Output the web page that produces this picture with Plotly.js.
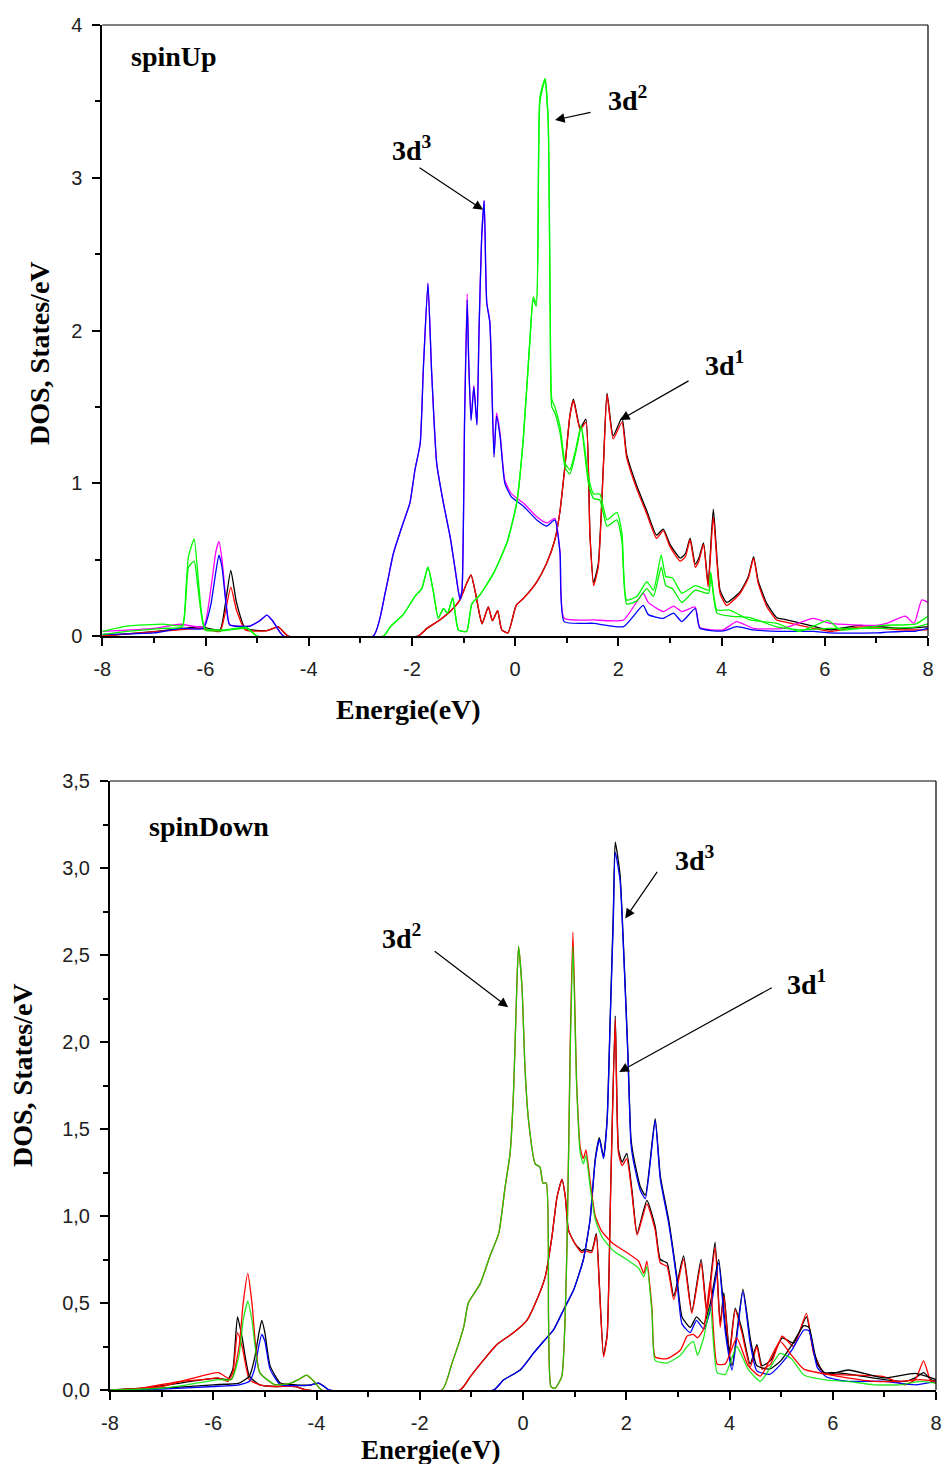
<!DOCTYPE html>
<html>
<head>
<meta charset="utf-8">
<script src="https://cdn.plot.ly/plotly-3.0.1.min.js"></script>
<style>html,body{margin:0;padding:0;background:#fff;}#chart{width:944px;height:1464px;}</style>
</head>
<body>
<div id="chart"></div>
<script>
// ---------- Tick labels ----------
const xTickVals = [-8, -6, -4, -2, 0, 2, 4, 6, 8];
const xTickText = ['-8', '-6', '-4', '-2', '0', '2', '4', '6', '8'];
const upYTickVals = [0, 1, 2, 3, 4];
const upYTickText = ['0', '1', '2', '3', '4'];
const downYTickVals = [0, 0.5, 1, 1.5, 2, 2.5, 3, 3.5];
const downYTickText = ['0,0', '0,5', '1,0', '1,5', '2,0', '2,5', '3,0', '3,5'];

// ---------- spinUp : 3d3 (blue / magenta) ----------
const upBM_x = [-8, -7, -6.49, -6.04, -5.9, -5.8, -5.74, -5.68, -5.6, -5.53, -5.14, -4.95, -4.81, -4.7, -4.49, -2.75, -2.52, -2.36, -2.17, -2.04, -1.94, -1.84, -1.78, -1.69, -1.62, -1.52, -1.39, -1.26, -1.16, -1.07, -1.03, -0.98, -0.93, -0.9, -0.855, -0.8, -0.74, -0.7, -0.65, -0.6, -0.57, -0.55, -0.49, -0.41, -0.36, -0.29, -0.2, -0.07, 0.16, 0.42, 0.61, 0.77, 0.87, 0.95, 1.52, 2.1, 2.48, 2.58, 2.87, 3.07, 3.23, 3.49, 3.58, 4.03, 4.29, 4.62, 5.2, 5.78, 6.1, 7.0, 7.2, 7.56, 7.73, 7.88, 8];
const upBlue = [0.01, 0.02, 0.05, 0.05, 0.2, 0.42, 0.53, 0.45, 0.2, 0.072, 0.065, 0.1, 0.137, 0.1, 0, 0, 0.28, 0.54, 0.74, 0.87, 1.09, 1.26, 1.74, 2.31, 1.74, 1.13, 0.87, 0.65, 0.43, 0.24, 0.3, 1.4, 2.2, 1.8, 1.41, 1.63, 1.38, 2.0, 2.6, 2.85, 2.4, 2.18, 2.05, 1.17, 1.44, 1.3, 1.0, 0.91, 0.85, 0.76, 0.72, 0.76, 0.54, 0.094, 0.083, 0.061, 0.2, 0.14, 0.116, 0.15, 0.094, 0.18, 0.05, 0.033, 0.061, 0.04, 0.03, 0.03, 0.02, 0.02, 0.025, 0.03, 0.03, 0.04, 0.05];
const upMagenta = [0.03, 0.05, 0.077, 0.06, 0.3, 0.55, 0.62, 0.5, 0.22, 0.075, 0.065, 0.1, 0.137, 0.1, 0, 0, 0.28, 0.54, 0.74, 0.87, 1.09, 1.26, 1.74, 2.31, 1.74, 1.13, 0.87, 0.65, 0.43, 0.24, 0.3, 1.45, 2.24, 1.8, 1.42, 1.64, 1.39, 2.0, 2.6, 2.85, 2.4, 2.18, 2.06, 1.19, 1.46, 1.32, 1.02, 0.93, 0.87, 0.78, 0.74, 0.77, 0.55, 0.116, 0.105, 0.105, 0.28, 0.22, 0.16, 0.196, 0.16, 0.19, 0.055, 0.04, 0.094, 0.05, 0.05, 0.116, 0.083, 0.07, 0.083, 0.13, 0.083, 0.236, 0.22];

// ---------- spinUp : 3d2 (two green curves) ----------
const upG_x = [-8, -7.53, -6.82, -6.45, -6.38, -6.33, -6.22, -6.14, -6.01, -5.65, -5.2, -5.0, -2.55, -2.42, -2.17, -1.94, -1.81, -1.69, -1.59, -1.49, -1.39, -1.31, -1.21, -1.1, -0.94, -0.84, -0.68, -0.42, -0.16, 0.03, 0.16, 0.29, 0.35, 0.41, 0.48, 0.58, 0.64, 0.68, 0.71, 0.77, 0.87, 0.97, 1.06, 1.16, 1.28, 1.42, 1.52, 1.64, 1.78, 1.97, 2.07, 2.16, 2.36, 2.55, 2.68, 2.83, 2.92, 3.05, 3.23, 3.49, 3.75, 3.79, 3.91, 4.16, 4.55, 5.07, 5.5, 6.07, 6.3, 7.13, 7.77, 8];
const upGreenA = [0.03, 0.065, 0.078, 0.07, 0.3, 0.52, 0.635, 0.37, 0.05, 0.04, 0.057, 0, 0, 0.06, 0.14, 0.26, 0.31, 0.45, 0.3, 0.116, 0.18, 0.15, 0.25, 0.04, 0.03, 0.21, 0.27, 0.41, 0.61, 0.87, 1.3, 1.96, 2.22, 2.18, 3.53, 3.65, 3.38, 2.11, 1.55, 1.5, 1.37, 1.13, 1.09, 1.2, 1.38, 1.04, 0.93, 0.93, 0.76, 0.81, 0.67, 0.236, 0.26, 0.355, 0.3, 0.53, 0.39, 0.38, 0.28, 0.33, 0.3, 0.42, 0.17, 0.17, 0.105, 0.083, 0.03, 0.1, 0.04, 0.07, 0.08, 0.13];
const upGreenB = [0.01, 0.03, 0.05, 0.06, 0.25, 0.45, 0.49, 0.3, 0.04, 0.035, 0.05, 0, 0, 0.06, 0.14, 0.26, 0.31, 0.45, 0.3, 0.116, 0.18, 0.15, 0.25, 0.04, 0.03, 0.21, 0.27, 0.41, 0.61, 0.87, 1.3, 1.96, 2.2, 2.16, 3.5, 3.64, 3.36, 2.08, 1.5, 1.46, 1.33, 1.1, 1.06, 1.18, 1.36, 1.0, 0.9, 0.89, 0.72, 0.76, 0.62, 0.21, 0.23, 0.31, 0.26, 0.45, 0.33, 0.31, 0.22, 0.3, 0.28, 0.4, 0.15, 0.13, 0.12, 0.06, 0.04, 0.05, 0.05, 0.05, 0.06, 0.08];

// ---------- spinUp : 3d1 (red / black) ----------
const upRK_x = [-8, -6.95, -6.1, -5.72, -5.62, -5.51, -5.4, -5.23, -4.81, -4.59, -4.4, -1.88, -1.71, -1.46, -1.26, -1.07, -0.94, -0.855, -0.78, -0.68, -0.64, -0.52, -0.44, -0.34, -0.26, -0.14, 0.02, 0.16, 0.42, 0.61, 0.77, 0.87, 0.97, 1.06, 1.13, 1.26, 1.37, 1.45, 1.52, 1.61, 1.71, 1.78, 1.9, 2.07, 2.16, 2.36, 2.55, 2.74, 2.87, 3.0, 3.2, 3.3, 3.39, 3.49, 3.56, 3.65, 3.74, 3.84, 3.97, 4.1, 4.36, 4.52, 4.62, 4.71, 4.88, 5.07, 5.2, 5.65, 6.1, 6.68, 7.45, 8];
const upRed = [0, 0.028, 0.05, 0.03, 0.15, 0.32, 0.17, 0.04, 0.035, 0.06, 0, 0, 0.05, 0.105, 0.16, 0.236, 0.345, 0.4, 0.3, 0.126, 0.08, 0.19, 0.1, 0.166, 0.04, 0.02, 0.2, 0.246, 0.355, 0.476, 0.63, 0.82, 1.13, 1.44, 1.54, 1.35, 1.4, 0.65, 0.33, 0.45, 1.11, 1.58, 1.29, 1.4, 1.17, 0.96, 0.8, 0.64, 0.69, 0.585, 0.49, 0.52, 0.63, 0.45, 0.49, 0.6, 0.32, 0.78, 0.28, 0.2, 0.28, 0.38, 0.51, 0.345, 0.19, 0.105, 0.094, 0.06, 0.03, 0.06, 0.04, 0.04];
const upBlack = [0, 0.03, 0.06, 0.04, 0.2, 0.43, 0.22, 0.05, 0.035, 0.06, 0, 0, 0.05, 0.105, 0.16, 0.236, 0.345, 0.4, 0.3, 0.126, 0.08, 0.19, 0.1, 0.166, 0.04, 0.02, 0.2, 0.246, 0.355, 0.476, 0.63, 0.82, 1.13, 1.44, 1.55, 1.36, 1.42, 0.66, 0.35, 0.47, 1.12, 1.59, 1.31, 1.43, 1.19, 0.98, 0.82, 0.66, 0.7, 0.6, 0.51, 0.54, 0.64, 0.47, 0.51, 0.61, 0.34, 0.83, 0.3, 0.22, 0.29, 0.39, 0.52, 0.36, 0.21, 0.12, 0.11, 0.075, 0.04, 0.07, 0.05, 0.06];

// ---------- spinDown : 3d2 (green / red) ----------
const dnG_x = [-8, -7, -6.5, -5.9, -5.65, -5.5, -5.42, -5.33, -5.25, -5.1, -4.8, -4.5, -4.35, -4.19, -4.05, -3.9, -1.57, -1.38, -1.15, -1.06, -0.83, -0.64, -0.47, -0.345, -0.25, -0.18, -0.12, -0.087, -0.02, 0.04, 0.107, 0.236, 0.33, 0.385, 0.45, 0.495, 0.54, 0.62, 0.75, 0.85, 0.915, 0.967, 1.04, 1.11, 1.17, 1.22, 1.3, 1.4, 1.53, 1.75, 2.01, 2.24, 2.34, 2.4, 2.5, 2.56, 2.79, 3.05, 3.18, 3.3, 3.38, 3.5, 3.63, 3.76, 3.92, 4.14, 4.36, 4.6, 4.98, 5.2, 5.44, 5.89, 6.28, 6.8, 7.3, 7.7, 8];
const dnGreen = [0, 0.01, 0.03, 0.06, 0.06, 0.2, 0.4, 0.51, 0.4, 0.1, 0.03, 0.04, 0.06, 0.086, 0.05, 0, 0, 0.15, 0.36, 0.5, 0.61, 0.77, 0.9, 1.17, 1.36, 1.74, 2.32, 2.55, 2.32, 1.84, 1.55, 1.3, 1.28, 1.19, 1.19, 0.4, 0.02, 0.01, 0.077, 0.79, 1.94, 2.55, 1.74, 1.36, 1.3, 1.35, 1.17, 0.98, 0.88, 0.8, 0.75, 0.7, 0.65, 0.71, 0.44, 0.17, 0.155, 0.2, 0.25, 0.28, 0.2, 0.3, 0.48, 0.1, 0.09, 0.25, 0.12, 0.05, 0.21, 0.18, 0.086, 0.057, 0.05, 0.03, 0.03, 0.05, 0.04];
const dnRedB = [0, 0.02, 0.06, 0.1, 0.06, 0.25, 0.5, 0.67, 0.5, 0.1, 0.03, 0.04, 0.06, 0.086, 0.05, 0, 0, 0.15, 0.36, 0.5, 0.61, 0.77, 0.9, 1.17, 1.36, 1.74, 2.32, 2.55, 2.32, 1.84, 1.55, 1.3, 1.28, 1.19, 1.19, 0.4, 0.02, 0.01, 0.077, 0.8, 2.0, 2.63, 1.76, 1.39, 1.33, 1.38, 1.2, 1.0, 0.91, 0.84, 0.79, 0.74, 0.67, 0.74, 0.46, 0.19, 0.18, 0.23, 0.31, 0.32, 0.3, 0.35, 0.63, 0.15, 0.15, 0.3, 0.14, 0.08, 0.28, 0.2, 0.12, 0.09, 0.07, 0.05, 0.05, 0.06, 0.05];

// ---------- spinDown : 3d1 (red / black) ----------
const dnRK_x = [-8, -7.4, -6.64, -6.2, -5.9, -5.72, -5.62, -5.53, -5.44, -5.3, -5.1, -4.8, -4.4, -4.2, -1.22, -1.02, -0.77, -0.51, -0.18, 0.075, 0.27, 0.43, 0.56, 0.66, 0.754, 0.82, 0.88, 1.01, 1.14, 1.2, 1.33, 1.42, 1.48, 1.56, 1.63, 1.7, 1.787, 1.85, 1.92, 2.01, 2.11, 2.21, 2.4, 2.56, 2.66, 2.79, 2.92, 3.11, 3.27, 3.45, 3.56, 3.72, 3.82, 3.89, 4.0, 4.11, 4.24, 4.4, 4.53, 4.63, 4.8, 5.02, 5.24, 5.49, 5.63, 5.82, 6.0, 6.34, 6.99, 7.4, 7.6, 7.76, 7.9, 8];
const dnRedA = [0, 0.01, 0.05, 0.06, 0.07, 0.05, 0.1, 0.33, 0.25, 0.06, 0.03, 0.02, 0.02, 0, 0, 0.077, 0.17, 0.26, 0.33, 0.4, 0.52, 0.65, 0.88, 1.11, 1.21, 1.11, 0.92, 0.84, 0.79, 0.8, 0.79, 0.89, 0.59, 0.19, 0.31, 1.17, 2.13, 1.36, 1.29, 1.33, 1.13, 0.89, 1.07, 0.92, 0.73, 0.71, 0.52, 0.75, 0.44, 0.73, 0.44, 0.82, 0.36, 0.54, 0.2, 0.46, 0.33, 0.13, 0.25, 0.12, 0.15, 0.31, 0.25, 0.44, 0.21, 0.096, 0.09, 0.086, 0.077, 0.03, 0.06, 0.167, 0.05, 0.04];
const dnBlackA = [0, 0.01, 0.04, 0.06, 0.067, 0.06, 0.12, 0.42, 0.3, 0.08, 0.03, 0.02, 0.02, 0, 0, 0.077, 0.17, 0.26, 0.33, 0.4, 0.52, 0.65, 0.88, 1.11, 1.21, 1.11, 0.92, 0.84, 0.8, 0.81, 0.8, 0.9, 0.6, 0.2, 0.32, 1.18, 2.15, 1.38, 1.31, 1.36, 1.15, 0.9, 1.09, 0.94, 0.75, 0.73, 0.54, 0.77, 0.45, 0.75, 0.46, 0.85, 0.38, 0.56, 0.22, 0.47, 0.35, 0.15, 0.26, 0.14, 0.17, 0.3, 0.27, 0.42, 0.22, 0.1, 0.1, 0.09, 0.06, 0.05, 0.07, 0.1, 0.06, 0.05];

// ---------- spinDown : 3d3 (blue / black) ----------
const dnBK_x = [-8, -7, -6, -5.5, -5.3, -5.2, -5.12, -5.06, -5.0, -4.9, -4.7, -4.4, -4.1, -3.96, -3.85, -3.75, -0.57, -0.38, -0.055, 0.2, 0.4, 0.59, 0.785, 0.98, 1.17, 1.3, 1.4, 1.48, 1.56, 1.63, 1.69, 1.75, 1.787, 1.88, 1.95, 2.03, 2.09, 2.13, 2.27, 2.37, 2.56, 2.66, 2.82, 2.98, 3.08, 3.24, 3.36, 3.5, 3.63, 3.79, 3.92, 4.05, 4.26, 4.4, 4.53, 4.78, 5.0, 5.21, 5.44, 5.54, 5.7, 5.88, 6.3, 7.0, 7.6, 8];
const dnBlue = [0, 0.005, 0.02, 0.03, 0.05, 0.12, 0.25, 0.32, 0.28, 0.12, 0.03, 0.025, 0.03, 0.04, 0.02, 0, 0, 0.057, 0.115, 0.21, 0.28, 0.345, 0.46, 0.575, 0.75, 0.98, 1.32, 1.44, 1.33, 1.55, 2.13, 2.7, 3.09, 2.93, 2.51, 1.935, 1.42, 1.33, 1.15, 1.1, 1.55, 1.21, 0.96, 0.63, 0.38, 0.33, 0.4, 0.35, 0.46, 0.73, 0.33, 0.115, 0.565, 0.27, 0.11, 0.09, 0.15, 0.23, 0.345, 0.34, 0.13, 0.075, 0.05, 0.05, 0.03, 0.05];
const dnBlackB = [0, 0.01, 0.03, 0.04, 0.08, 0.18, 0.32, 0.4, 0.33, 0.14, 0.04, 0.03, 0.03, 0.04, 0.02, 0, 0, 0.057, 0.115, 0.21, 0.28, 0.345, 0.46, 0.575, 0.75, 0.98, 1.33, 1.45, 1.34, 1.56, 2.15, 2.75, 3.15, 2.96, 2.53, 1.95, 1.45, 1.36, 1.17, 1.12, 1.56, 1.23, 0.98, 0.65, 0.42, 0.36, 0.42, 0.38, 0.5, 0.75, 0.36, 0.14, 0.58, 0.3, 0.14, 0.12, 0.17, 0.26, 0.37, 0.36, 0.15, 0.09, 0.115, 0.07, 0.096, 0.06];

// ---------- traces ----------
function ln(x, y, color, xa, ya) {
  return {x: x, y: y, type: 'scatter', mode: 'lines', xaxis: xa, yaxis: ya,
          line: {color: color, width: 1.3, shape: 'spline', smoothing: 0.5}, hoverinfo: 'skip'};
}
const data = [
  ln(upRK_x, upBlack, '#000000', 'x', 'y'),
  ln(upRK_x, upRed, '#ff0000', 'x', 'y'),
  ln(upBM_x, upMagenta, '#ff00ff', 'x', 'y'),
  ln(upBM_x, upBlue, '#0000ff', 'x', 'y'),
  ln(upG_x, upGreenB, '#00ee00', 'x', 'y'),
  ln(upG_x, upGreenA, '#00ff00', 'x', 'y'),

  ln(dnRK_x, dnBlackA, '#000000', 'x2', 'y2'),
  ln(dnRK_x, dnRedA, '#ff0000', 'x2', 'y2'),
  ln(dnBK_x, dnBlackB, '#000000', 'x2', 'y2'),
  ln(dnBK_x, dnBlue, '#0000ff', 'x2', 'y2'),
  ln(dnG_x, dnRedB, '#ff0000', 'x2', 'y2'),
  ln(dnG_x, dnGreen, 'rgba(0,230,0,0.85)', 'x2', 'y2')
];

// ---------- layout ----------
const W = 944, H = 1464;
const px = v => v / W;
const py = v => 1 - v / H;
const serif = 'Liberation Serif, Times New Roman, serif';
const sans = 'Liberation Sans, Arial, sans-serif';

function xAxis(dom, anchor) {
  return {domain: dom, anchor: anchor, range: [-8, 8], tickmode: 'array', tickvals: xTickVals, ticktext: xTickText,
          ticks: 'outside', ticklen: 8, tickwidth: 2, tickcolor: '#000', showline: true, linewidth: 2, linecolor: '#000',
          showgrid: false, zeroline: false, ticklabelstandoff: 6, tickfont: {family: sans, size: 20, color: '#222'},
          minor: {tickmode: 'linear', tick0: -8, dtick: 1, ticks: 'outside', ticklen: 5, tickwidth: 2, tickcolor: '#000', showgrid: false}};
}
function yAxis(dom, anchor, rng, vals, text, minorD) {
  return {domain: dom, anchor: anchor, range: rng, tickmode: 'array', tickvals: vals, ticktext: text,
          ticks: 'outside', ticklen: 8, tickwidth: 2, tickcolor: '#000', showline: true, linewidth: 2, linecolor: '#000',
          showgrid: false, zeroline: false, ticklabelstandoff: 6, tickfont: {family: sans, size: 20, color: '#222'},
          minor: {tickmode: 'linear', tick0: 0, dtick: minorD, ticks: 'outside', ticklen: 5, tickwidth: 2, tickcolor: '#000', showgrid: false}};
}

function txt(text, x, y, size, xanchor, extra) {
  return Object.assign({text: text, xref: 'paper', yref: 'paper', x: px(x), y: py(y),
    xanchor: xanchor || 'left', yanchor: 'middle', showarrow: false,
    font: {family: serif, size: size, color: '#000', weight: 'bold'}}, extra || {});
}
function arrow(xr, yr, x, y, ax, ay) {
  return {text: '', xref: xr, yref: yr, x: x, y: y, ax: ax, ay: ay, showarrow: true,
          arrowhead: 2, arrowsize: 1.6, arrowwidth: 1.2, arrowcolor: '#000', standoff: 0};
}

const layout = {
  width: W, height: H, autosize: false,
  margin: {l: 0, r: 0, t: 0, b: 0},
  paper_bgcolor: '#ffffff', plot_bgcolor: '#ffffff',
  showlegend: false,
  separators: ', ',
  xaxis: xAxis([px(102.3), px(928)], 'y'),
  yaxis: yAxis([py(636), py(25)], 'x', [0, 4], upYTickVals, upYTickText, 0.5),
  xaxis2: xAxis([px(110), px(936)], 'y2'),
  yaxis2: yAxis([py(1390), py(781)], 'x2', [0, 3.5], downYTickVals, downYTickText, 0.25),
  shapes: [
    {type: 'line', xref: 'x domain', yref: 'y domain', x0: 0, x1: 1, y0: 1, y1: 1, line: {color: '#000', width: 1.2}},
    {type: 'line', xref: 'x domain', yref: 'y domain', x0: 1, x1: 1, y0: 0, y1: 1, line: {color: '#000', width: 1.2}},
    {type: 'line', xref: 'x2 domain', yref: 'y2 domain', x0: 0, x1: 1, y0: 1, y1: 1, line: {color: '#000', width: 1.2}},
    {type: 'line', xref: 'x2 domain', yref: 'y2 domain', x0: 1, x1: 1, y0: 0, y1: 1, line: {color: '#000', width: 1.2}}
  ],
  annotations: [
    txt('Energie(eV)', 408, 709, 28, 'center'),
    txt('DOS, States/eV', 40, 353, 28, 'center', {textangle: -90}),
    txt('Energie(eV)', 430, 1450, 27, 'center'),
    txt('DOS, States/eV', 22, 1075, 28, 'center', {textangle: -90}),
    txt('spinUp', 129, 57, 28, 'left'),
    txt('spinDown', 147, 826, 28, 'left'),
    txt('3d<sup>3</sup>', 390, 148, 28, 'left'),
    txt('3d<sup>2</sup>', 606, 98, 28, 'left'),
    txt('3d<sup>1</sup>', 703, 364, 28, 'left'),
    txt('3d<sup>2</sup>', 380, 936, 28, 'left'),
    txt('3d<sup>3</sup>', 673, 858, 28, 'left'),
    txt('3d<sup>1</sup>', 785, 982, 28, 'left'),
    arrow('x', 'y', -0.622, 2.79, -65, -43),
    arrow('x', 'y', 0.773, 3.378, 37, -8),
    arrow('x', 'y', 2.033, 1.414, 70, -40),
    arrow('x2', 'y2', -0.287, 2.20, -75, -57),
    arrow('x2', 'y2', 1.98, 2.71, 33, -48),
    arrow('x2', 'y2', 1.864, 1.828, 154, -85)
  ]
};

Plotly.newPlot('chart', data, layout, {displayModeBar: false, staticPlot: true});
</script>
</body>
</html>
